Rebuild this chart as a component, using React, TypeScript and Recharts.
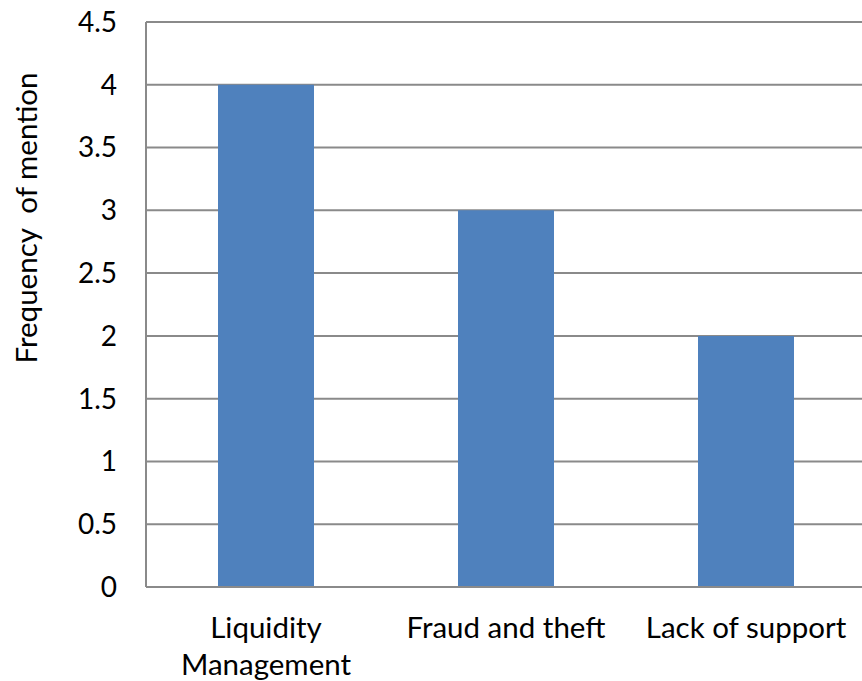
import React from 'react';
import { BarChart, Bar, XAxis, YAxis, CartesianGrid } from 'recharts';

const categories = ['Liquidity Management', 'Fraud and theft', 'Lack of support'];
const frequencies = [4, 3, 2];
const yTicks = [0, 0.5, 1, 1.5, 2, 2.5, 3, 3.5, 4, 4.5];
const yAxisTitle = 'Frequency  of mention';

const data = categories.map((name, i) => ({ name, value: frequencies[i] }));

const FONT = 'Lato, "Noto Sans", sans-serif';
const GRID = '#8a8a8a';
const MAX_CHARS = 16;

const wrap = (s: string): string[] => {
  const words = s.split(' ');
  const lines: string[] = [];
  let cur = '';
  for (const w of words) {
    const next = cur ? cur + ' ' + w : w;
    if (next.length > MAX_CHARS && cur) {
      lines.push(cur);
      cur = w;
    } else {
      cur = next;
    }
  }
  if (cur) lines.push(cur);
  return lines;
};

const XTick = (props: any) => {
  const { x, y, payload } = props;
  const lines = wrap(String(payload.value));
  return (
    <text x={x} y={y} textAnchor="middle" fontFamily={FONT} fontSize={29.5} fill="#000">
      {lines.map((l, i) => (
        <tspan key={i} x={x} dy={i === 0 ? 20.5 : 37}>
          {l}
        </tspan>
      ))}
    </text>
  );
};

const YTitle = () => (
  <text
    x={25}
    y={218}
    transform="rotate(-90 25 218)"
    textAnchor="middle"
    dominantBaseline="central"
    fontFamily={FONT}
    fontSize={29.5}
    fill="#000"
    style={{ whiteSpace: 'pre' }}
  >
    {yAxisTitle}
  </text>
);

export default function App() {
  return (
    <div style={{ position: 'absolute', left: 0, top: 0, width: 862, height: 681, overflow: 'hidden', background: '#fff' }}>
      <BarChart
        width={880}
        height={681}
        data={data}
        margin={{ top: 22, right: 14, bottom: 0, left: 0 }}
        barCategoryGap="30%"
      >
        <CartesianGrid vertical={false} stroke={GRID} strokeWidth={2} />
        <XAxis
          dataKey="name"
          height={94}
          interval={0}
          tickLine={false}
          tickSize={0}
          tickMargin={30}
          axisLine={{ stroke: GRID, strokeWidth: 2 }}
          tick={<XTick />}
        />
        <YAxis
          width={146}
          domain={[0, 4.5]}
          ticks={yTicks}
          interval={0}
          tickLine={false}
          tickSize={0}
          tickMargin={29}
          axisLine={{ stroke: GRID, strokeWidth: 2 }}
          tick={{ fontFamily: FONT, fontSize: 28, fill: '#000' }}
          label={{ content: () => <YTitle /> }}
        />
        <Bar dataKey="value" fill="#4F81BD" isAnimationActive={false} />
      </BarChart>
    </div>
  );
}
